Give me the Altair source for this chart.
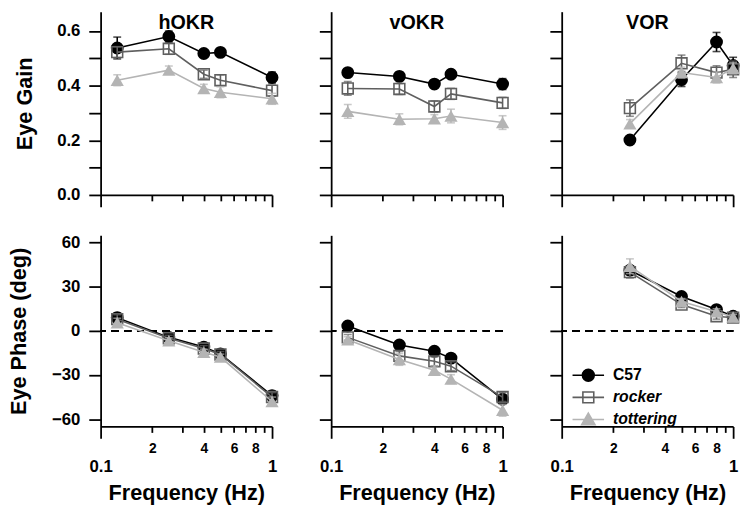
import altair as alt
import pandas as pd

SERIES = ["C57", "rocker", "tottering"]
FREQ_OKR = [0.125, 0.25, 0.4, 0.5, 1.0]
FREQ_VOR = [0.25, 0.5, 0.8, 1.0]

# ---- Eye gain ----
HOKR_GAIN_C57 = [0.538, 0.580, 0.518, 0.522, 0.430]
HOKR_GAIN_C57_ERR = [0.040, 0.020, 0.012, 0.012, 0.020]
HOKR_GAIN_ROCKER = [0.523, 0.535, 0.442, 0.420, 0.382]
HOKR_GAIN_ROCKER_ERR = [0.020, 0.020, 0.015, 0.020, 0.020]
HOKR_GAIN_TOTT = [0.420, 0.457, 0.390, 0.376, 0.352]
HOKR_GAIN_TOTT_ERR = [0.020, 0.015, 0.015, 0.020, 0.020]

VOKR_GAIN_C57 = [0.448, 0.434, 0.406, 0.442, 0.406]
VOKR_GAIN_C57_ERR = [0.012, 0.015, 0.010, 0.015, 0.020]
VOKR_GAIN_ROCKER = [0.390, 0.388, 0.324, 0.370, 0.337]
VOKR_GAIN_ROCKER_ERR = [0.025, 0.020, 0.020, 0.020, 0.020]
VOKR_GAIN_TOTT = [0.306, 0.277, 0.279, 0.289, 0.265]
VOKR_GAIN_TOTT_ERR = [0.025, 0.020, 0.015, 0.025, 0.025]

VOR_GAIN_C57 = [0.201, 0.422, 0.560, 0.474]
VOR_GAIN_C57_ERR = [0.015, 0.025, 0.035, 0.030]
VOR_GAIN_ROCKER = [0.318, 0.482, 0.448, 0.460]
VOR_GAIN_ROCKER_ERR = [0.030, 0.030, 0.025, 0.030]
VOR_GAIN_TOTT = [0.261, 0.448, 0.430, 0.464]
VOR_GAIN_TOTT_ERR = [0.015, 0.020, 0.020, 0.020]

# ---- Eye phase (deg) ----
HOKR_PHASE_C57 = [9.0, -4.4, -11.0, -15.6, -44.0]
HOKR_PHASE_C57_ERR = [3, 2, 2, 2, 3]
HOKR_PHASE_ROCKER = [8.0, -5.0, -12.0, -16.0, -45.0]
HOKR_PHASE_ROCKER_ERR = [3, 2, 2, 2, 3]
HOKR_PHASE_TOTT = [5.6, -6.7, -14.5, -17.8, -48.0]
HOKR_PHASE_TOTT_ERR = [3, 2, 2, 2, 3]

VOKR_PHASE_C57 = [3.3, -9.6, -13.8, -18.5, -46.5]
VOKR_PHASE_C57_ERR = [2, 2, 2, 2, 3]
VOKR_PHASE_ROCKER = [-4.4, -17.0, -20.7, -24.0, -45.0]
VOKR_PHASE_ROCKER_ERR = [2, 3, 3, 3, 3]
VOKR_PHASE_TOTT = [-6.0, -19.4, -26.8, -32.8, -54.0]
VOKR_PHASE_TOTT_ERR = [2, 4, 3, 3, 4]

VOR_PHASE_C57 = [41.3, 23.4, 14.5, 10.0]
VOR_PHASE_C57_ERR = [3, 2, 2, 2]
VOR_PHASE_ROCKER = [40.0, 17.9, 10.0, 9.0]
VOR_PHASE_ROCKER_ERR = [4, 2, 2, 2]
VOR_PHASE_TOTT = [44.0, 20.0, 13.0, 9.4]
VOR_PHASE_TOTT_ERR = [5, 2, 2, 2]

TABLE = [
    ("hOKR", "gain", FREQ_OKR, [(HOKR_GAIN_C57, HOKR_GAIN_C57_ERR), (HOKR_GAIN_ROCKER, HOKR_GAIN_ROCKER_ERR), (HOKR_GAIN_TOTT, HOKR_GAIN_TOTT_ERR)]),
    ("vOKR", "gain", FREQ_OKR, [(VOKR_GAIN_C57, VOKR_GAIN_C57_ERR), (VOKR_GAIN_ROCKER, VOKR_GAIN_ROCKER_ERR), (VOKR_GAIN_TOTT, VOKR_GAIN_TOTT_ERR)]),
    ("VOR", "gain", FREQ_VOR, [(VOR_GAIN_C57, VOR_GAIN_C57_ERR), (VOR_GAIN_ROCKER, VOR_GAIN_ROCKER_ERR), (VOR_GAIN_TOTT, VOR_GAIN_TOTT_ERR)]),
    ("hOKR", "phase", FREQ_OKR, [(HOKR_PHASE_C57, HOKR_PHASE_C57_ERR), (HOKR_PHASE_ROCKER, HOKR_PHASE_ROCKER_ERR), (HOKR_PHASE_TOTT, HOKR_PHASE_TOTT_ERR)]),
    ("vOKR", "phase", FREQ_OKR, [(VOKR_PHASE_C57, VOKR_PHASE_C57_ERR), (VOKR_PHASE_ROCKER, VOKR_PHASE_ROCKER_ERR), (VOKR_PHASE_TOTT, VOKR_PHASE_TOTT_ERR)]),
    ("VOR", "phase", FREQ_VOR, [(VOR_PHASE_C57, VOR_PHASE_C57_ERR), (VOR_PHASE_ROCKER, VOR_PHASE_ROCKER_ERR), (VOR_PHASE_TOTT, VOR_PHASE_TOTT_ERR)]),
]

rows = []
for panel, measure, freqs, groups in TABLE:
    for s, (vals, errs) in zip(SERIES, groups):
        for f, v, e in zip(freqs, vals, errs):
            rows.append(dict(panel=panel, measure=measure, series=s, freq=f,
                             value=v, lo=v - e, hi=v + e))
df = pd.DataFrame(rows)

X_TICKS = [0.1, 0.2, 0.3, 0.4, 0.5, 0.6, 0.7, 0.8, 0.9, 1.0]
GAIN_TICKS = [0.0, 0.1, 0.2, 0.3, 0.4, 0.5, 0.6]
PHASE_TICKS = [-60, -30, 0, 30, 60]

STYLE = {
    "C57": dict(color="black", shape="circle", filled=True, size=170),
    "rocker": dict(color="#5f5f5f", shape="square", filled=False, size=121),
    "tottering": dict(color="#b4b4b4", shape="triangle-up", filled=True, size=180),
}

END_TEST = "datum.value < 0.15 || datum.value > 0.95"
XSCALE = alt.Scale(type="log", domain=[0.1, 1.0], nice=False)

PLOT_W = 174
TOP_H = 186
BOT_H = 194


def x_axis(bottom):
    common = dict(values=X_TICKS, grid=False,
                  tickSize={"condition": {"test": END_TEST, "value": 12}, "value": 6},
                  labelOverlap=False, labelFlush=False, labelBound=False)
    if not bottom:
        return alt.Axis(labels=False, title=None, **common)
    return alt.Axis(
        title="Frequency (Hz)", titlePadding=8,
        labelExpr="round(datum.value*10) == 1 ? '0.1' : round(datum.value*10) == 10 ? '1' : "
                  "(round(datum.value*10) % 2 == 0 ? '' + round(datum.value*10) : '')",
        labelFontSize={"condition": {"test": END_TEST, "value": 17}, "value": 14},
        labelPadding={"condition": {"test": END_TEST, "value": 21}, "value": 9},
        **common)


def y_axis(measure, first):
    if measure == "gain":
        common = dict(values=GAIN_TICKS, grid=False, tickSize=12)
        if first:
            return alt.Axis(title="Eye Gain", titlePadding=21, labelPadding=9,
                            labelExpr="round(datum.value*10) % 2 == 0 ? format(datum.value, '.1f') : ''",
                            **common)
        return alt.Axis(title=None, labels=False, **common)
    common = dict(values=PHASE_TICKS, grid=False, tickSize=12)
    if first:
        return alt.Axis(title="Eye Phase (deg)", titlePadding=21, labelPadding=9,
                        format="d", **common)
    return alt.Axis(title=None, labels=False, **common)


def make_panel(panel, measure, col):
    sub = df[(df.panel == panel) & (df.measure == measure)]
    bottom = measure == "phase"
    xa = x_axis(bottom)
    ya = y_axis(measure, col == 0)
    ysc = alt.Scale(domain=[0, 0.671], nice=False, zero=False) if measure == "gain" \
        else alt.Scale(domain=[-65, 65], nice=False, zero=False)
    X = alt.X("freq:Q", scale=XSCALE, axis=xa)
    base = alt.Chart(sub)
    layers = []
    if bottom:
        layers.append(base.mark_rule(color="black", strokeDash=[7, 6], strokeWidth=1.6).encode(
            y=alt.YDatum(0, scale=ysc, axis=ya)))
    for s in SERIES:
        st = STYLE[s]
        d = base.transform_filter(alt.datum.series == s)
        layers.append(d.mark_line(color=st["color"], strokeWidth=1.6).encode(
            x=X, y=alt.Y("value:Q", scale=ysc, axis=ya)))
        layers.append(d.mark_rule(color=st["color"], strokeWidth=1.6).encode(
            x=X, y=alt.Y("lo:Q", scale=ysc, axis=ya), y2="hi:Q"))
        for fld in ("lo", "hi"):
            layers.append(d.mark_tick(orient="horizontal", size=8, thickness=1.6, color=st["color"]).encode(
                x=X, y=alt.Y(f"{fld}:Q", scale=ysc, axis=ya)))
        if st["filled"]:
            pm = d.mark_point(shape=st["shape"], filled=True, color=st["color"], size=st["size"], opacity=1)
        else:
            pm = d.mark_point(shape=st["shape"], filled=False, color=st["color"], size=st["size"],
                              strokeWidth=1.6, opacity=1)
        layers.append(pm.encode(x=X, y=alt.Y("value:Q", scale=ysc, axis=ya)))
    if bottom and col == 2:
        u = "M-1,0H4.33"
        paths = [
            u + "M0.67,0A1,1,0,1,0,2.67,0A1,1,0,1,0,0.67,0Z",
            u + "M0.75,-0.9H2.59V0.9H0.75Z",
            u + "M1.67,-1.1L2.8,0.85H0.54Z",
        ]
        leg = alt.Legend(title=None, orient="none", legendX=9, legendY=134, padding=0,
                         symbolSize=144, symbolStrokeWidth=1.6, labelOffset=27,
                         labelFontSize=16, labelFontWeight="bold", rowPadding=3.5,
                         labelFontStyle={"expr": "datum.value == 'C57' ? 'normal' : 'italic'"})
        layers.append(base.transform_filter("false").mark_point(opacity=1).encode(
            shape=alt.Shape("series:N", scale=alt.Scale(domain=SERIES, range=paths), legend=leg),
            fill=alt.Fill("series:N", scale=alt.Scale(domain=SERIES, range=["black", "transparent", "#b4b4b4"]), legend=leg),
            stroke=alt.Stroke("series:N", scale=alt.Scale(domain=SERIES, range=["black", "#5f5f5f", "#b4b4b4"]), legend=leg),
        ))
    props = dict(width=PLOT_W, height=BOT_H if bottom else TOP_H)
    if not bottom:
        props["title"] = alt.TitleParams(panel, fontSize=20, fontWeight="bold", offset=-22, anchor="middle")
    return alt.layer(*layers).properties(**props)


panels = [make_panel(p, "gain", i) for i, p in enumerate(["hOKR", "vOKR", "VOR"])] + \
         [make_panel(p, "phase", i) for i, p in enumerate(["hOKR", "vOKR", "VOR"])]

chart = alt.concat(*panels, columns=3, spacing={"row": 41, "column": 60}, bounds="flush").resolve_scale(
    shape="independent", fill="independent", stroke="independent").resolve_legend(
    shape="independent", fill="independent", stroke="independent").properties(padding=0).configure(
    font="Liberation Sans"
).configure_view(stroke=None).configure_axis(
    domainColor="black", tickColor="black", domainWidth=1.8, tickWidth=1.8,
    labelColor="black", titleColor="black", labelFont="Liberation Sans", titleFont="Liberation Sans",
    labelFontWeight="bold", titleFontWeight="bold", labelFontSize=17, titleFontSize=22,
).configure_title(font="Liberation Sans", color="black").configure_legend(
    labelFont="Liberation Sans", labelColor="black")

chart.save("out.html", embed_options={"renderer": "svg", "actions": False})
